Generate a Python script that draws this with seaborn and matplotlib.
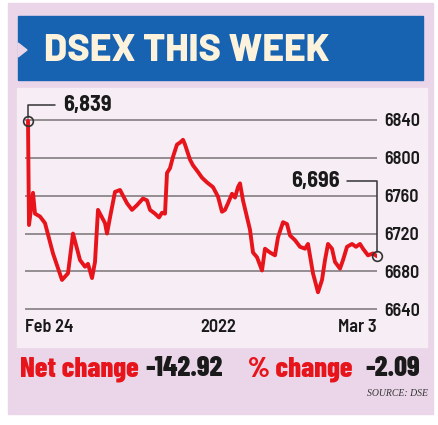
import numpy as np
import seaborn as sns
import matplotlib.pyplot as plt
from matplotlib.patches import Rectangle, Polygon

# index readings (time steps across the week)
t = [0, 1, 5, 7, 12, 17, 25, 34, 40, 45, 52, 57, 60, 64, 67, 70, 77, 79, 82, 87,
     92, 99, 104, 109, 115, 119, 122, 127, 131, 134, 137, 139, 142, 145, 149, 152,
     155, 157, 162, 165, 170, 174, 179, 185, 190, 194, 197, 200, 204, 207, 210, 212,
     215, 222, 225, 229, 234, 237, 242, 247, 250, 255, 259, 262, 267, 272, 277, 280,
     285, 290, 294, 297, 300, 304, 307, 312, 315, 319, 324, 328, 332, 335, 340, 345, 349]
dsex = [6839, 6729, 6763, 6741, 6738, 6731, 6699, 6671, 6678, 6720, 6692, 6685, 6688,
        6673, 6690, 6745, 6731, 6720, 6737, 6764, 6766, 6752, 6745, 6750, 6757, 6755,
        6745, 6741, 6737, 6742, 6741, 6784, 6789, 6801, 6814, 6816, 6819, 6814, 6798,
        6792, 6785, 6779, 6774, 6769, 6759, 6743, 6745, 6752, 6762, 6758, 6769, 6773,
        6755, 6724, 6700, 6695, 6681, 6704, 6700, 6697, 6716, 6732, 6730, 6718, 6713,
        6706, 6704, 6709, 6678, 6658, 6671, 6692, 6709, 6704, 6690, 6683, 6692, 6706,
        6709, 6706, 6709, 6704, 6697, 6699, 6696]
y_ticks = [6640, 6680, 6720, 6760, 6800, 6840]
x_labels = ["Feb 24", "2022", "Mar 3"]
x_label_pos = [-3, 190, 349]
net_change = "-142.92"
pct_change = "-2.09"

W, H = 439, 425
sns.set_style("white")
plt.rcParams['font.family'] = ['Barlow Semi Condensed', 'DejaVu Sans']
COND = ['Barlow Condensed', 'DejaVu Sans']

fig = plt.figure(figsize=(W / 100, H / 100), dpi=100)
fig.patch.set_facecolor("white")


def box(x0, y0, x1, y1, color, z=0):
    fig.patches.append(Rectangle((x0 / W, 1 - y1 / H), (x1 - x0) / W, (y1 - y0) / H,
                                 transform=fig.transFigure, color=color, zorder=z))


box(8, 3, 433, 414, "#ead6e8")
box(17, 88, 427, 347, "#f6edf5", 1)
box(18, 16, 423, 80, "#1763b1", 1)
fig.patches.append(Polygon([(18 / W, 1 - 43 / H), (27 / W, 1 - 50 / H), (18 / W, 1 - 57 / H)],
                           closed=True, transform=fig.transFigure, color="#ead6e8", zorder=2))

fig.text(44 / W, 1 - 51 / H, "DSEX THIS WEEK", color="#fdf3dc", fontsize=27,
         fontweight=800, va="center", ha="left", zorder=3,
         family=['Barlow', 'Barlow Semi Condensed', 'DejaVu Sans'])

ax = fig.add_axes([25 / W, 1 - 315 / H, 352 / W, 215 / H])
ax.set_facecolor("none")
ax.set_zorder(5)
sns.lineplot(x=t, y=dsex, ax=ax, color="#e8141b", linewidth=2.8)
ax.set_xlim(-3, 349)
ax.set_ylim(6634, 6861)
ax.set_yticks(y_ticks)
ax.yaxis.tick_right()
ax.grid(axis="y", color="#7a7478", linewidth=1.1)
ax.grid(axis="x", visible=False)
for s in ax.spines.values():
    s.set_visible(False)
ax.tick_params(axis="y", length=0, pad=5, labelsize=13, labelcolor="#1a1a1a")
ax.set_xticks(x_label_pos)
ax.set_xticklabels(x_labels)
ax.tick_params(axis="x", length=0, pad=3, labelsize=13, labelcolor="#1a1a1a")
for lab, ha in zip(ax.get_xticklabels(), ["left", "center", "right"]):
    lab.set_ha(ha)
for lab in ax.get_xticklabels() + ax.get_yticklabels():
    lab.set_fontweight("semibold")

# end markers and leader labels
ax.plot([t[0], t[-1]], [dsex[0], dsex[-1]], "o", ms=7, mfc="none", mec="#333333",
        mew=1.2, clip_on=False, zorder=6)
ax.plot([t[0], t[0], t[0] + 27], [dsex[0] + 3, dsex[0] + 17, dsex[0] + 17],
        color="#333333", lw=1.1, clip_on=False)
ax.text(t[0] + 35, dsex[0] + 17, f"{dsex[0]:,}", fontsize=16, fontweight="bold",
        va="center", ha="left", color="#1a1a1a")
ax.plot([t[-1] - 30, t[-1], t[-1]], [dsex[-1] + 80, dsex[-1] + 80, dsex[-1] + 4],
        color="#333333", lw=1.1, clip_on=False)
ax.text(t[-1] - 37, dsex[-1] + 80, f"{dsex[-1]:,}", fontsize=16, fontweight="bold",
        va="center", ha="right", color="#1a1a1a")

# bottom summary
fs = 20.5
y_b = 1 - 369 / H
fig.text(20 / W, y_b, "Net change", color="#e8141b", fontsize=fs, fontweight=800, va="center", family=COND)
fig.text(145 / W, y_b, net_change, color="#1a1a1a", fontsize=fs, fontweight=800, va="center", family=COND)
fig.text(248 / W, y_b, "% change", color="#e8141b", fontsize=fs, fontweight=800, va="center", family=COND)
fig.text(365 / W, y_b, pct_change, color="#1a1a1a", fontsize=fs, fontweight=800, va="center", family=COND)
fig.text(428 / W, 1 - 394 / H, "SOURCE: DSE", family="Liberation Serif", style="italic",
         fontsize=7, ha="right", va="center", color="#333333")

fig.savefig("out.png", dpi=100)
